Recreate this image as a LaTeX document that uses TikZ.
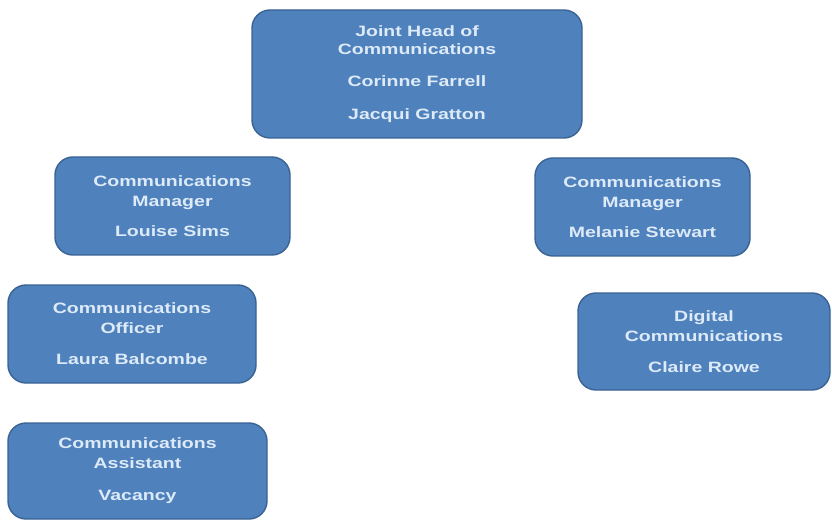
\documentclass[tikz,border=0pt]{standalone}
\usepackage{fontspec}
\setmainfont{Liberation Sans}[FakeStretch=1.3]
\definecolor{boxfill}{HTML}{4F81BD}
\definecolor{boxline}{HTML}{3A6292}
\definecolor{boxtext}{HTML}{DDEAF8}
\tikzset{
  orgbox/.style={draw=boxline, line width=1.4pt, fill=boxfill, rounded corners=18pt,
    text=boxtext, font=\fontsize{15}{20}\selectfont\bfseries, align=center,
    inner sep=0pt, minimum width=#1},
  orgbox/.default=200pt
}
\begin{document}
\begin{tikzpicture}[x=1pt,y=-1pt]
\useasboundingbox (0,0) rectangle (832,521);
\node[orgbox=330pt, minimum height=128pt] (head) at (417,74)
  {Joint Head of\\[-2pt]Communications\\[12pt]Corinne Farrell\\[13pt]Jacqui Gratton};
\node[orgbox=235pt, minimum height=98pt] (mgrL) at (172.5,206)
  {Communications\\Manager\\[10pt]Louise Sims};
\node[orgbox=215pt, minimum height=98pt] (mgrR) at (642.5,207)
  {Communications\\Manager\\[10pt]Melanie Stewart};
\node[orgbox=248pt, minimum height=98pt] (off) at (132,334)
  {Communications\\Officer\\[11pt]Laura Balcombe};
\node[orgbox=252pt, minimum height=97pt] (dig) at (704,341.5)
  {Digital\\Communications\\[11pt]Claire Rowe};
\node[orgbox=259pt, minimum height=96pt] (asst) at (137.5,471)
  {Communications\\Assistant\\[12pt]Vacancy};
\end{tikzpicture}
\end{document}
